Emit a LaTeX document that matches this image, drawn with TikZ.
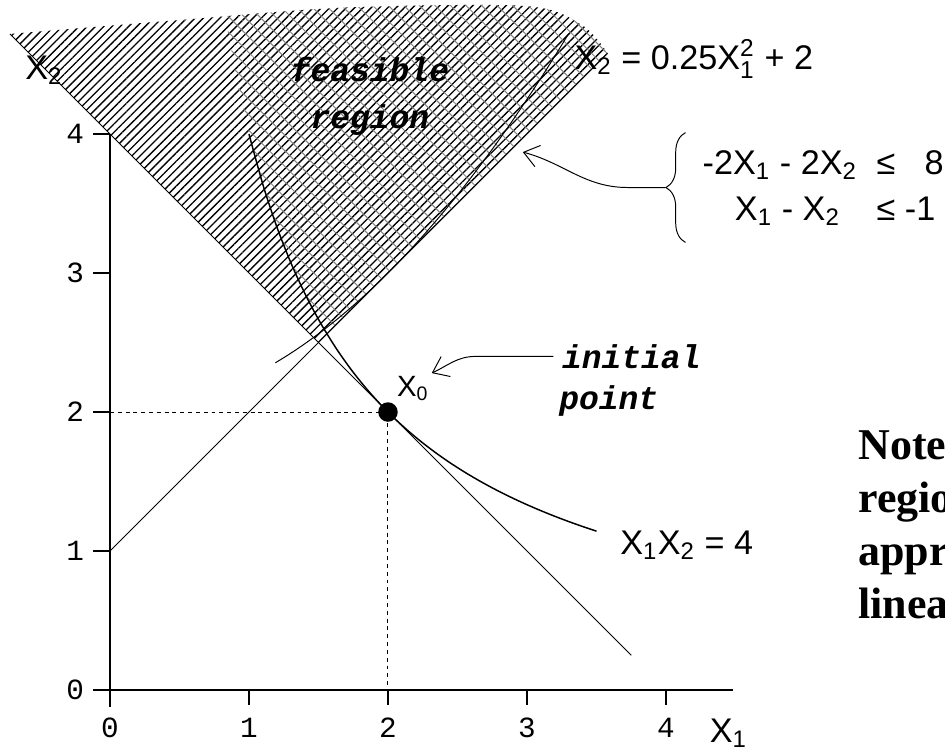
\documentclass[tikz,border=0pt]{standalone}
\usepackage{fontspec}
\setmainfont{Liberation Sans}
\newfontfamily\tickfont{Liberation Mono}
\newfontfamily\notefont{Liberation Serif}
\usetikzlibrary{patterns.meta,arrows.meta,decorations.pathreplacing}
\newcommand{\feasrgn}{(1.5,2.5) -- plot[smooth] coordinates {(-0.72,4.72) (0.5,4.82) (1.7,4.91) (3.0,4.92) (3.4,4.78) (3.58,4.58)} -- cycle}
\newcommand{\scr}[1]{\mbox{\fontsize{10}{10}\selectfont #1}}

\begin{document}
\begin{tikzpicture}[x=2cm,y=2cm,
  eq/.style={font=\fontsize{14}{19}\selectfont},
  tick/.style={font=\tickfont\fontsize{12}{14}\selectfont},
  tag/.style={font=\tickfont\bfseries\itshape\fontsize{13.5}{19}\selectfont},
  barb/.style={-{Straight Barb[length=6pt,width=9pt]}}]
  \useasboundingbox (-0.791,-0.446) rectangle (6.007,4.964);
  \fill[pattern={Lines[angle=45,distance=2.4pt,line width=0.55pt]}] \feasrgn;
  \begin{scope}
    \clip \feasrgn;
    \fill[pattern={Lines[angle=-45,distance=4.5pt,line width=0.4pt]},pattern color=black!50]
      plot[domain=0.8:3.7] (\x,{4/\x}) -- (3.7,5) -- (0.8,5) -- cycle;
  \end{scope}
  \draw[line width=0.8pt] (-0.12,0) -- (4.48,0);
  \draw[line width=0.8pt] (0,-0.12) -- (0,4);
  \foreach \i in {0,...,4} {
    \draw[line width=0.8pt] (\i,0) -- (\i,-0.11);
    \node[tick] (xt\i) at (\i,-0.27) {\i};
    \draw[line width=0.8pt] (0,\i) -- (-0.12,\i);
    \node[tick] (yt\i) at (-0.25,\i) {\i};
  }
  \node[eq] (xone) at (4.45,-0.31) {X\textsubscript{1}};
  \node[eq] (xtwo) at (-0.475,4.46) {X\textsubscript{2}};
  \draw[thin] (-0.72,4.72) -- (3.75,0.25);
  \draw[thin] (0,1) -- (3.58,4.58);
  \draw[thin] plot[domain=1.19:3.3,smooth] (\x,{0.25*\x*\x+2});
  \draw[line width=0.6pt] plot[domain=1.0:3.5,smooth] (\x,{4/\x});
  \draw[dash pattern=on 1.6pt off 1.6pt] (0,2) -- (2,2) -- (2,0);
  \node[circle,fill,inner sep=0,minimum size=8pt] (xzpt) at (2,2) {};
  \node[font=\fontsize{12}{14}\selectfont,inner sep=1pt] (xzero) at (2.18,2.17) {X\textsubscript{0}};
  \node[tag,anchor=west] (init) at (3.19,2.40) {initial};
  \node[tag,anchor=west] (pnt) at (3.17,2.08) {point};
  \draw[barb] (init.west) -- ++(-0.56,0) to[out=180,in=25] (xzero.north east);
  \node[tag,align=center] (feas) at (1.87,4.27) {feasible\\region};
  \node[eq,anchor=west] (parab) at (3.28,4.54) {X\textsubscript{2} = 0.25X$^{\scr{2}}_{\scr{1}}$ + 2};
  \draw[decorate,decoration={brace,amplitude=8pt}] (4.14,3.22) -- (4.14,4.01);
  \coordinate (brtip) at (3.996,3.615);
  \node[eq,anchor=west,inner sep=0] (cons) at (4.26,3.61)
    {\begin{tabular}{@{}r@{}l@{}}-2X\textsubscript{1} - 2X\textsubscript{2} & \hspace*{8pt}≤ \hspace*{8pt}8\\X\textsubscript{1} - X\textsubscript{2}\hspace*{7pt} & \hspace*{8pt}≤ -1\end{tabular}};
  \coordinate (rgn) at (2.97,3.87);
  \draw[barb] (brtip) -- ++(-0.27,0) to[out=180,in=-15] (rgn);
  \node[eq,anchor=west] (hyp) at (3.61,1.04) {X\textsubscript{1}X\textsubscript{2} = 4};
  \node[font=\notefont\bfseries\fontsize{18}{21.7}\selectfont,align=left,anchor=north west,inner sep=0] (note) at (5.38,1.87) {Note\\regio\\appr\\linea};
\end{tikzpicture}
\end{document}
